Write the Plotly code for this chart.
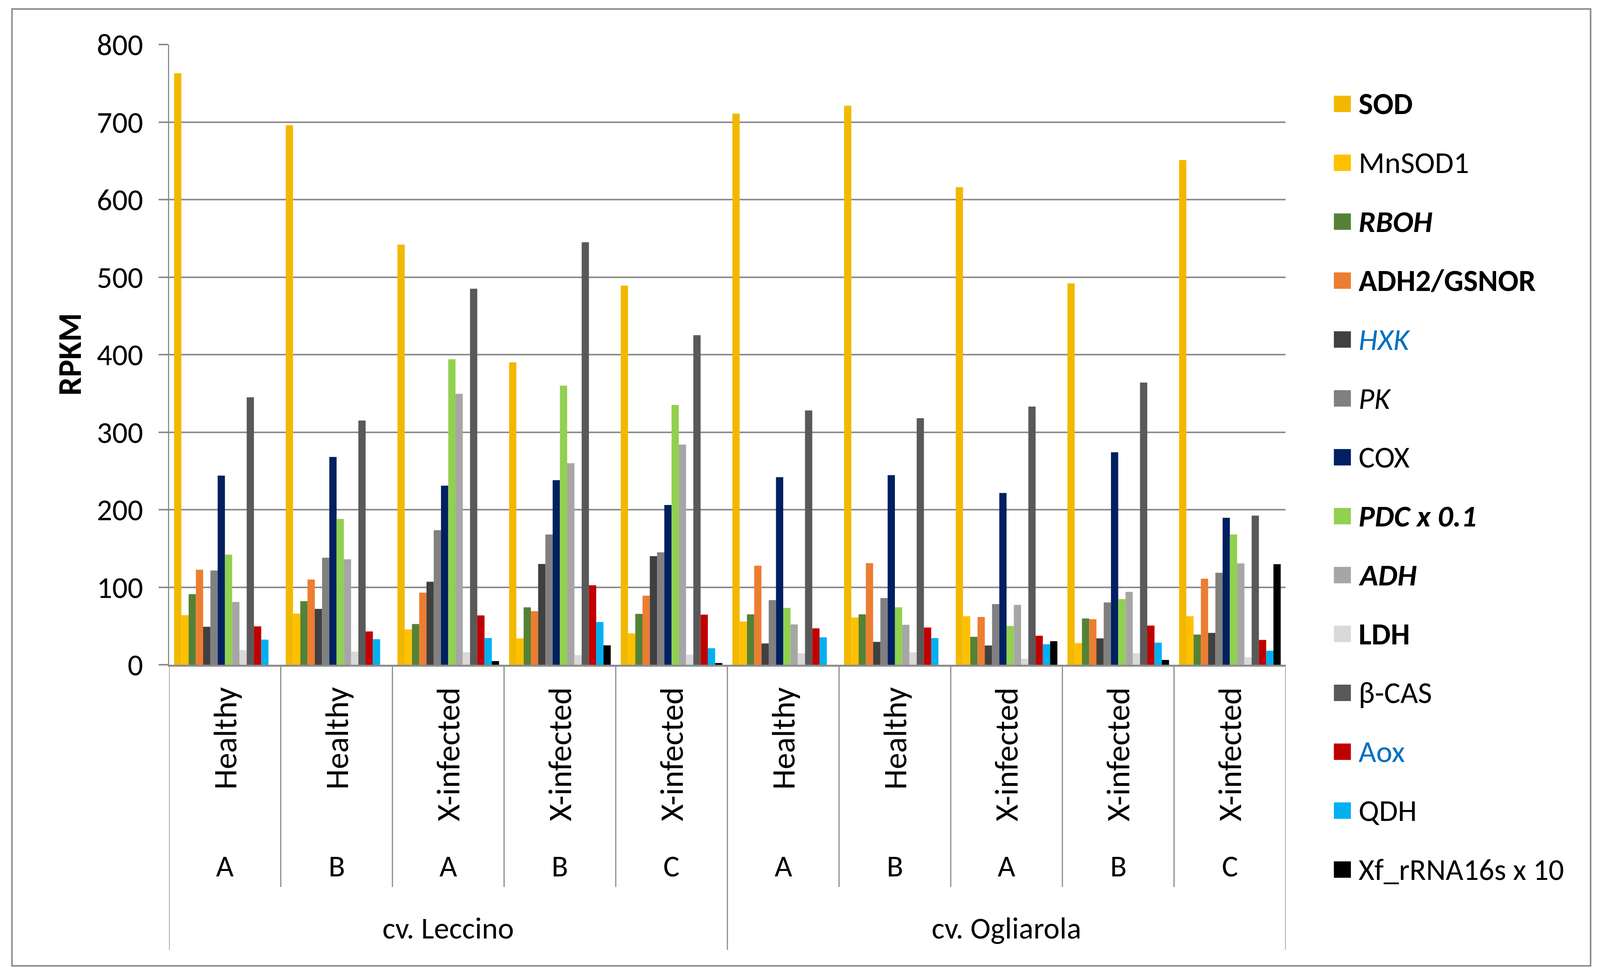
import plotly.graph_objects as go

# ---------------- data ----------------
cultivars = ["cv. Leccino", "cv. Ogliarola"]
cultivar_of_group = [0, 0, 0, 0, 0, 1, 1, 1, 1, 1]
conditions = ["Healthy", "Healthy", "X-infected", "X-infected", "X-infected",
              "Healthy", "Healthy", "X-infected", "X-infected", "X-infected"]
replicates = ["A", "B", "A", "B", "C", "A", "B", "A", "B", "C"]

series_names = ["SOD", "MnSOD1", "RBOH", "ADH2/GSNOR", "HXK", "PK", "COX",
                "PDC x 0.1", "ADH", "LDH", "β-CAS", "Aox", "QDH", "Xf_rRNA16s x 10"]
series_labels = ["<b>SOD</b>", "MnSOD1", "<b><i>RBOH</i></b>", "<b>ADH2/GSNOR</b>",
                 "<span style='color:#0070C0'><i>HXK</i></span>", "<i>PK</i>", "COX",
                 "<b><i>PDC x 0.1</i></b>", "<b><i>ADH</i></b>", "<b>LDH</b>", "β-CAS",
                 "<span style='color:#0070C0'>Aox</span>", "QDH", "Xf_rRNA16s x 10"]
colors = ["#F2B800", "#FFC000", "#548235", "#ED7D31", "#404040", "#808080", "#002060",
          "#92D050", "#A6A6A6", "#D9D9D9", "#595959", "#C00000", "#00B0F0", "#000000"]

SOD = [763, 696, 542, 390, 489, 711, 721, 616, 492, 651]
MnSOD1 = [64, 66, 45.5, 34, 40.6, 55.7, 61, 62.6, 28, 62.6]
RBOH = [91, 82, 52.5, 74, 65.6, 65, 65, 36, 59.7, 38.9]
ADH2_GSNOR = [122.5, 110, 93, 69, 89, 127.7, 131, 61.6, 58.7, 111]
HXK = [49, 72, 107, 130, 140, 27.5, 29.5, 24.8, 34, 41]
PK = [121.5, 138, 173.5, 168, 145, 83.4, 86, 78.2, 80.4, 118.6]
COX = [244, 268, 231, 238, 206, 242, 244.6, 221.5, 274, 189.6]
PDC_x01 = [142, 188, 394, 360, 335, 73.3, 74, 50, 84.6, 168]
ADH = [81, 136, 349.5, 260, 284, 52, 51.5, 77.2, 94, 130.7]
LDH = [19, 17, 16, 12.4, 12.9, 14.9, 16, 7.7, 14.9, 9.7]
B_CAS = [345, 315, 485, 545, 425, 328, 318, 333, 364, 192.3]
Aox = [49.5, 43, 63.6, 102.5, 64.6, 47, 48, 37.4, 50.5, 32]
QDH = [32.4, 33, 34.4, 55, 21.3, 35.4, 34.4, 26.5, 28.5, 18]
Xf_rRNA16s_x10 = [0, 0, 4.7, 25, 2.2, 0, 0, 30.4, 6.2, 129.7]

series_values = [SOD, MnSOD1, RBOH, ADH2_GSNOR, HXK, PK, COX, PDC_x01, ADH, LDH,
                 B_CAS, Aox, QDH, Xf_rRNA16s_x10]

y_ticks = [0, 100, 200, 300, 400, 500, 600, 700, 800]

# ---------------- layout (fractions of a 4419 x 2499 reference frame) ----------------
RW, RH = 4419.0, 2499.0
FIG_W, FIG_H = 4096, 2499
FONT = "Carlito, Lato, sans-serif"
GRAY = "#8C8C8C"
FS = 78
FS_ROT = 84


def fx(px):
    return px / RW


def fy(py):
    return 1 - py / RH


groups = list(range(len(replicates)))
n = len(groups)

fig = go.Figure()
for name, vals, col in zip(series_names, series_values, colors):
    fig.add_trace(go.Bar(x=groups, y=vals, name=name,
                         marker=dict(color=col, line=dict(width=0)), showlegend=False))

shapes = []
annotations = []

# category dividers below the axis
for i in range(n + 1):
    xb = i - 0.5
    outer = (i == 0 or i == n or cultivar_of_group[i - 1] != cultivar_of_group[i])
    shapes.append(dict(type="line", xref="x", yref="paper", x0=xb, x1=xb,
                       y0=fy(1702), y1=fy(2432 if outer else 2271),
                       line=dict(color=GRAY, width=3)))

# category labels
for g in groups:
    annotations.append(dict(x=g, y=fy(1758), xref="x", yref="paper", text=conditions[g],
                            textangle=-90, xanchor="center", yanchor="top", showarrow=False,
                            font=dict(family=FONT, size=FS_ROT, color="black")))
    annotations.append(dict(x=g, y=fy(2217), xref="x", yref="paper", text=replicates[g],
                            xanchor="center", yanchor="middle", showarrow=False,
                            font=dict(family=FONT, size=FS, color="black")))
for c, cname in enumerate(cultivars):
    idx = [g for g in groups if cultivar_of_group[g] == c]
    annotations.append(dict(x=(idx[0] + idx[-1]) / 2, y=fy(2376), xref="x", yref="paper",
                            text=cname, xanchor="center", yanchor="middle", showarrow=False,
                            font=dict(family=FONT, size=FS, color="black")))

# y-axis title
annotations.append(dict(x=fx(192), y=fy(907), xref="paper", yref="paper", text="<b>RPKM</b>",
                        textangle=-90, xanchor="center", yanchor="middle", showarrow=False,
                        font=dict(family=FONT, size=FS_ROT, color="black")))

# legend (drawn with large swatches)
for k, (lab, col) in enumerate(zip(series_labels, colors)):
    cy = 266 + 150.8 * k
    shapes.append(dict(type="rect", xref="paper", yref="paper",
                       x0=fx(3684), x1=fx(3731), y0=fy(cy + 21), y1=fy(cy - 21),
                       fillcolor=col, line=dict(width=0)))
    annotations.append(dict(x=fx(3750), y=fy(cy), xref="paper", yref="paper", text=lab,
                            xanchor="left", yanchor="middle", showarrow=False,
                            font=dict(family=FONT, size=FS, color="black")))

# outer chart border
shapes.append(dict(type="rect", xref="paper", yref="paper",
                   x0=fx(33), x1=fx(4393), y0=fy(2473), y1=fy(23),
                   line=dict(color=GRAY, width=4), fillcolor="rgba(0,0,0,0)"))

fig.update_layout(
    template="none",
    width=FIG_W, height=FIG_H,
    margin=dict(l=0, r=0, t=0, b=0, pad=0, autoexpand=False),
    paper_bgcolor="white", plot_bgcolor="white",
    barmode="group", bargap=0.09, bargroupgap=0,
    font=dict(family=FONT, size=FS, color="black"),
    showlegend=False,
    shapes=shapes, annotations=annotations,
    xaxis=dict(domain=[fx(467), fx(3551)], range=[-0.5, n - 0.5], showticklabels=False,
               ticks="", showgrid=False, zeroline=False, showline=True, automargin=False,
               linecolor=GRAY, linewidth=5, fixedrange=True),
    yaxis=dict(domain=[fy(1702), fy(114)], range=[0, 800], tickvals=y_ticks,
               ticktext=[str(v) for v in y_ticks], automargin=False,
               showgrid=True, gridcolor=GRAY, gridwidth=4, zeroline=False,
               showline=True, linecolor=GRAY, linewidth=3,
               ticks="outside", ticklen=24, tickwidth=4, tickcolor=GRAY,
               ticklabelstandoff=24, fixedrange=True,
               tickfont=dict(family=FONT, size=FS, color="black")),
)

post = ("document.documentElement.style.margin='0';document.body.style.margin='0';"
        "document.body.style.overflow='hidden';")

fig.write_html("out.html", post_script=post, config={"displayModeBar": False})
